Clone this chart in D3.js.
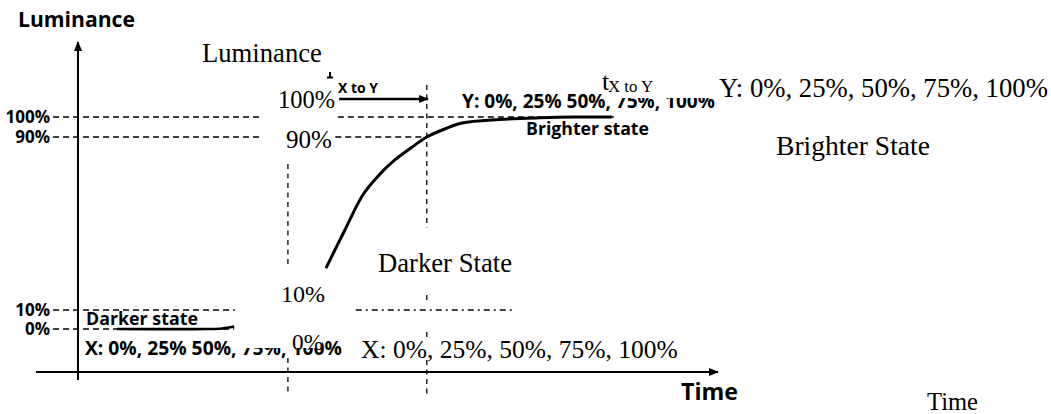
<!DOCTYPE html>
<html><head><meta charset="utf-8">
<script src="https://cdn.jsdelivr.net/npm/d3@7"></script>
<style>html,body{margin:0;padding:0;background:#fff;} svg{display:block}</style>
</head><body>
<svg id="c" width="1051" height="414"></svg>
<script>
// ---------------- data ----------------
const levels      = [0, 10, 90, 100];              // luminance guide levels (%)
const levelLabels = ["0%", "10%", "90%", "100%"];
const stateValues = ["0%", "25%", "50%", "75%", "100%"];
// darker-state segment (time units, luminance %)
const darkTime = [6.1, 20.2, 22.5, 24.4];
const darkLum  = [0, 0, 0.3, 1.3];
// transition curve towards the brighter state
const riseTime = [38.75, 41.7, 44.5, 46.9, 49.5, 52.0, 54.5, 57.3, 60.0, 65.9, 72.2, 77.7, 83.4];
const riseLum  = [29.4, 47.0, 63.2, 72.0, 79.4, 84.9, 90, 94, 97, 98.75, 99.6, 100, 100];
// horizontal guide segments: level, time range
const hGuideLum   = [100, 100, 90, 90, 10, 10, 0];
const hGuideFrom  = [-3.9, 40.6, -3.9, 40.2, -3.9, 43.4, -3.9];
const hGuideTo    = [28.75, 84.2, 28.75, 54.5, 24.5, 68.3, 24.4];
const hGuideStyle = ["dash", "dash", "dash", "dash", "dash", "dashdot", "dash"];
// vertical guide segments: time, luminance range
const vGuideTime = [32.8, 32.8, 54.5, 54.5, 54.5, 54.5];
const vGuideFrom = [77.5, -15.3, 116, 16.9, -1.6, -16.3];
const vGuideTo   = [30.8, -34.7, 47.9, 13.7, -5.8, -34.7];
// t(X to Y) arrow
const arrowTime = [40.8, 54.7];
const arrowLum  = 109;

// ---------------- layout ----------------
const svg = d3.select("#c");
const x = d3.scaleLinear().domain([0, 100]).range([78, 718]);
const y = d3.scaleLinear().domain([0, 10, 90, 100]).range([329, 310, 137, 117]);
const axisY = 372, axisLeftX = 36, axisTopY = 42, axisBottomY = 380;
const BOLD = "'Open Sans', 'DejaVu Sans', sans-serif";
const SERIF = "'Liberation Serif', 'Times New Roman', serif";

const defs = svg.append("defs");
defs.append("marker").attr("id", "ah").attr("viewBox", "0 0 10 10")
  .attr("refX", 9).attr("refY", 5).attr("markerWidth", 10).attr("markerHeight", 10)
  .attr("markerUnits", "userSpaceOnUse").attr("orient", "auto")
  .append("path").attr("d", "M0,1 L10,5 L0,9 Z").attr("fill", "#000");

// axes
svg.append("line").attr("x1", x(0)).attr("x2", x(0)).attr("y1", axisBottomY).attr("y2", axisTopY)
  .attr("stroke", "#000").attr("stroke-width", 2).attr("marker-end", "url(#ah)");
svg.append("line").attr("x1", axisLeftX).attr("x2", x(100)).attr("y1", axisY).attr("y2", axisY)
  .attr("stroke", "#000").attr("stroke-width", 2).attr("marker-end", "url(#ah)");

// level tick labels via d3 axis
const ya = svg.append("g").attr("transform", "translate(53,0)")
  .call(d3.axisLeft(y).tickValues(levels).tickSize(0).tickPadding(3)
        .tickFormat((d, i) => levelLabels[i]));
ya.select(".domain").remove();
ya.selectAll("text").attr("font-family", BOLD).attr("font-weight", 700)
  .attr("font-size", 17).attr("fill", "#000");

// guides
const hg = hGuideLum.map((l, i) => ({l, a: hGuideFrom[i], b: hGuideTo[i], s: hGuideStyle[i]}));
svg.append("g").selectAll("line").data(hg).join("line")
  .attr("x1", d => x(d.a)).attr("x2", d => x(d.b))
  .attr("y1", d => y(d.l)).attr("y2", d => y(d.l))
  .attr("stroke", "#000").attr("stroke-width", 1.3)
  .attr("stroke-dasharray", d => d.s === "dash" ? "6,4" : "6,4,2,4");
const vg = vGuideTime.map((t, i) => ({t, a: vGuideFrom[i], b: vGuideTo[i]}));
svg.append("g").selectAll("line").data(vg).join("line")
  .attr("x1", d => x(d.t)).attr("x2", d => x(d.t))
  .attr("y1", d => y(d.a)).attr("y2", d => y(d.b))
  .attr("stroke", "#000").attr("stroke-width", 1.3).attr("stroke-dasharray", "5,4.5");

// curves
const line = d3.line().x(d => x(d[0])).y(d => y(d[1])).curve(d3.curveCatmullRom.alpha(0.5));
svg.append("path").attr("d", line(darkTime.map((t, i) => [t, darkLum[i]])))
  .attr("fill", "none").attr("stroke", "#000").attr("stroke-width", 2.6);
svg.append("path").attr("d", line(riseTime.map((t, i) => [t, riseLum[i]])))
  .attr("fill", "none").attr("stroke", "#000").attr("stroke-width", 3);

// arrow t(X to Y)
svg.append("line").attr("x1", x(arrowTime[0])).attr("x2", x(arrowTime[1]))
  .attr("y1", y(arrowLum)).attr("y2", y(arrowLum))
  .attr("stroke", "#000").attr("stroke-width", 2.6).attr("marker-end", "url(#ah)");
// small clipped stub of the overlay arrow
svg.append("path").attr("d", "M330,72 L330,77 M327,77.5 L333,77.5")
  .attr("stroke", "#000").attr("stroke-width", 2).attr("fill", "none");

// text helper: fit to target width by font size
function label(txt, px, py, w, fam, weight, base) {
  const t = svg.append("text").attr("x", px).attr("y", py).text(txt)
    .attr("font-family", fam).attr("font-weight", weight).attr("font-size", base).attr("fill", "#000");
  if (w) {
    const len = t.node().getComputedTextLength();
    if (len > 0) t.attr("font-size", base * w / len);
  }
  return t;
}
const v = stateValues;
const boldStates = p => `${p}: ${v[0]}, ${v[1]} ${v[2]}, ${v[3]}, ${v[4]}`;
const serifStates = p => `${p}: ${v.join(", ")}`;

// bold (original) annotations
label("Luminance", 18, 27, 117, BOLD, 700, 19);
label("X to Y", 338, 93, 40, BOLD, 700, 14);
label(boldStates("Y"), 462, 108, 253, BOLD, 700, 19);
label("Brighter state", 526, 135, 123, BOLD, 700, 18);
label("Darker state", 86, 325, 112, BOLD, 700, 18);
label(boldStates("X"), 85, 355, 257, BOLD, 700, 19);
label("Time", 681, 400, 57, BOLD, 700, 22);

// white patches of the overlay layer
svg.append("rect").attr("x", 607).attr("y", 70).attr("width", 112).attr("height", 28).attr("fill", "#fff");
svg.append("rect").attr("x", 233).attr("y", 333).attr("width", 89).attr("height", 15).attr("fill", "#fff");

// serif overlay annotations
label("Luminance", 202, 62, 120, SERIF, 400, 26);
label("t", 602, 90, 0, SERIF, 400, 26);
label("X to Y", 608, 92, 45, SERIF, 400, 16);
label(serifStates("Y"), 719, 97, 329, SERIF, 400, 26);
label("Brighter State", 776, 155, 154, SERIF, 400, 26);
label("Darker State", 378, 272, 134, SERIF, 400, 26);
label(serifStates("X"), 361, 358, 317, SERIF, 400, 25);
label("Time", 927, 410, 51, SERIF, 400, 24);
// serif level labels of the overlay
const serifLevelPos = {100: [278, 108, 57], 90: [286, 148, 46], 10: [281, 302, 44], 0: [292, 350, 31]};
levels.forEach((l, i) => {
  const p = serifLevelPos[l];
  label(levelLabels[i], p[0], p[1], p[2], SERIF, 400, 25);
});
</script>
</body></html>
